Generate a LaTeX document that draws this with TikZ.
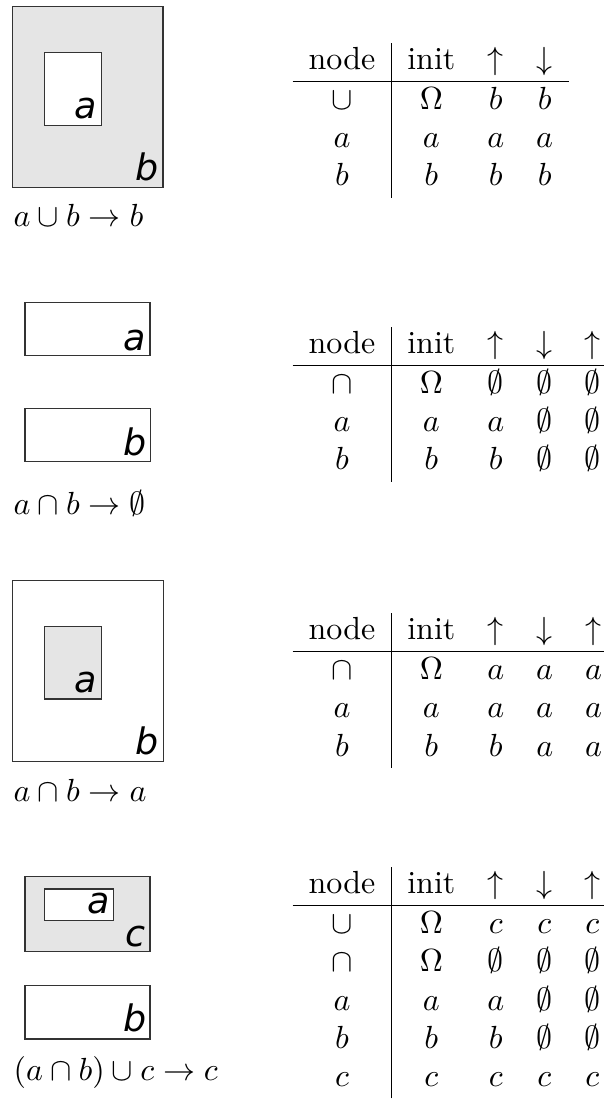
\documentclass[tikz,border=0pt]{standalone}
\usepackage{fontspec}
\newfontfamily\lblfont{DejaVu Sans}
\begin{document}
\begin{tikzpicture}[x=0.3125pt, y=-0.3125pt,
  box/.style={draw=black!80, line width=0.4pt},
  grayfill/.style={fill=black!10},
  whitefill/.style={fill=white},
  lbl/.style={anchor=base east, inner sep=0pt, font=\lblfont\itshape\fontsize{11.4}{13}\selectfont},
  caption/.style={anchor=base west, inner sep=0pt},
  tbl/.style={anchor=north west, inner sep=0pt}]
\useasboundingbox (0,0) rectangle (604,1099);

% ---------- panel 1 ----------
\draw[box, grayfill] (12.7,6.7) rectangle (163,187.7);
\draw[box, whitefill] (44.3,52.3) rectangle (101.7,125.3);
\node[lbl] (l1a) at (97,119) {a};
\node[lbl] (l1b) at (159,181) {b};
\node[caption] (c1) at (13,227) {$a\cup b\rightarrow b$};
\node[tbl] (t1) at (292,42) {$\begin{array}{c|ccc}
\mbox{node} & \mbox{init} & \uparrow & \downarrow\\ \hline
\cup & \Omega & b & b\\
a & a & a & a\\
b & b & b & b
\end{array}$};

% ---------- panel 2 ----------
\draw[box] (25,302.7) rectangle (150,355.7);
\node[lbl] (l2a) at (146,351) {a};
\draw[box] (25,408.3) rectangle (150.3,461.7);
\node[lbl] (l2b) at (147,456) {b};
\node[caption] (c2) at (13,514) {$a\cap b\rightarrow \emptyset$};
\node[tbl] (t2) at (292,326) {$\begin{array}{c|cccc}
\mbox{node} & \mbox{init} & \uparrow & \downarrow & \uparrow\\ \hline
\cap & \Omega & \emptyset & \emptyset & \emptyset\\
a & a & a & \emptyset & \emptyset\\
b & b & b & \emptyset & \emptyset
\end{array}$};

% ---------- panel 3 ----------
\draw[box] (12.7,580.7) rectangle (163.3,761.7);
\draw[box, grayfill] (44.3,626.3) rectangle (101.7,699);
\node[lbl] (l3a) at (97,692.3) {a};
\node[lbl] (l3b) at (159,754.3) {b};
\node[caption] (c3) at (13,801) {$a\cap b\rightarrow a$};
\node[tbl] (t3) at (292,612) {$\begin{array}{c|cccc}
\mbox{node} & \mbox{init} & \uparrow & \downarrow & \uparrow\\ \hline
\cap & \Omega & a & a & a\\
a & a & a & a & a\\
b & b & b & a & a
\end{array}$};

% ---------- panel 4 ----------
\draw[box, grayfill] (25,876.7) rectangle (150,951.7);
\draw[box, whitefill] (44.3,889) rectangle (113.3,920.7);
\node[lbl] (l4a) at (110,913) {a};
\node[lbl] (l4c) at (146,946.7) {c};
\draw[box] (25,985.7) rectangle (150,1039);
\node[lbl] (l4b) at (147,1031) {b};
\node[caption] (c4) at (13,1080) {$(a\cap b)\cup c\rightarrow c$};
\node[tbl] (t4) at (292,866) {$\begin{array}{c|cccc}
\mbox{node} & \mbox{init} & \uparrow & \downarrow & \uparrow\\ \hline
\cup & \Omega & c & c & c\\
\cap & \Omega & \emptyset & \emptyset & \emptyset\\
a & a & a & \emptyset & \emptyset\\
b & b & b & \emptyset & \emptyset\\
c & c & c & c & c
\end{array}$};
\end{tikzpicture}
\end{document}
